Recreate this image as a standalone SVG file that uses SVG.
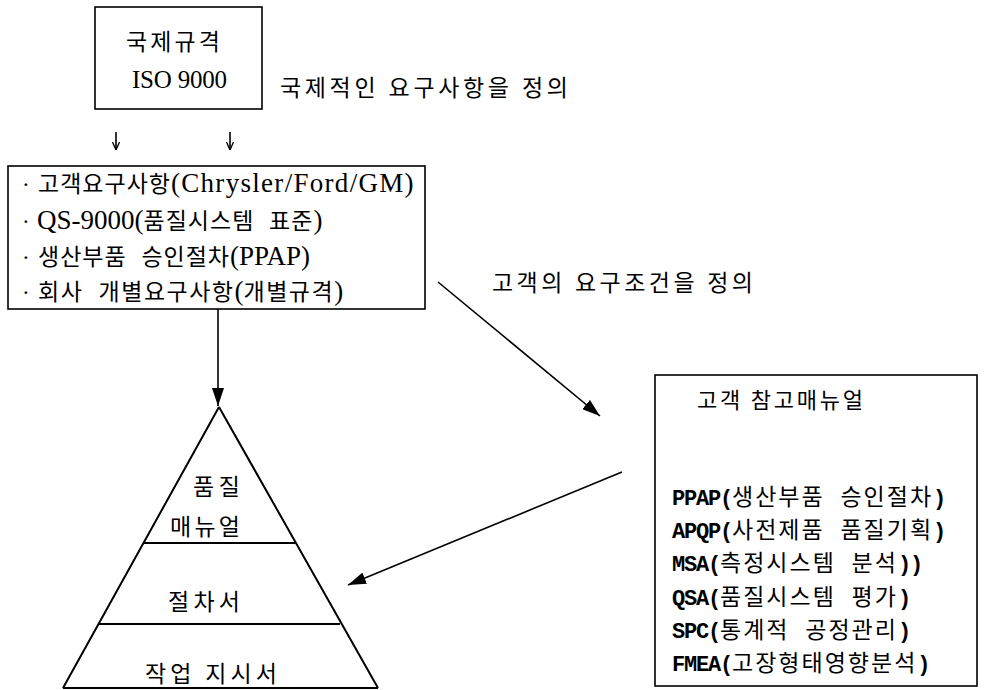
<svg xmlns="http://www.w3.org/2000/svg" width="985" height="690" viewBox="0 0 985 690">
<defs>
<marker id="ah" viewBox="0 0 18 12" refX="18" refY="6" markerWidth="18" markerHeight="12" markerUnits="userSpaceOnUse" orient="auto">
<path d="M0,0 L18,6 L0,12 Z" fill="#000"/>
</marker>
<marker id="sh" viewBox="0 0 8 8" refX="8" refY="4" markerWidth="8" markerHeight="8" markerUnits="userSpaceOnUse" orient="auto">
<path d="M0,0.5 L8,4 L0,7.5" fill="none" stroke="#000" stroke-width="1.3"/>
</marker>
<style>
.box{fill:#fff;stroke:#000;stroke-width:1.6}
.ln{fill:none;stroke:#000;stroke-width:2}
.t{font-family:"Liberation Serif","Noto Sans CJK KR",serif;font-size:23px;fill:#000}
.h{font-size:23px;letter-spacing:1px;word-spacing:8px}
.l{font-size:27px}
.k{font-family:"Noto Sans CJK KR",sans-serif;font-size:22px;fill:#000}
.m{font-family:"Liberation Mono","Noto Sans CJK KR",monospace;fill:#000}
.mh{font-size:23px;letter-spacing:2px}
.ml{font-size:22px;font-weight:bold;letter-spacing:-1.2px}
.c{stroke:#000;stroke-width:1.6;fill:none}
</style>
</defs>
<rect width="985" height="690" fill="#fff"/>

<g id="iso">
<rect class="box" x="95" y="7" width="167" height="102"/>
<text class="t" x="126" y="50" textLength="94" lengthAdjust="spacing">국제규격</text>
<text class="t" x="132" y="88" style="font-size:25px" textLength="95" lengthAdjust="spacing">ISO 9000</text>
</g>

<g id="label-intl">
<text class="t" x="280" y="96" textLength="288" lengthAdjust="spacing">국제적인 요구사항을 정의</text>
</g>

<g id="requirements">
<rect class="box" x="8" y="166" width="417" height="143"/>
<text class="t" x="22" y="192">·<tspan x="38" class="h">고객요구사항</tspan><tspan class="l" style="letter-spacing:1.3px">(Chrysler/Ford/GM)</tspan></text>
<text class="t" x="22" y="229">·<tspan x="37" class="l">QS-9000(</tspan><tspan class="h">품질시스템 표준</tspan><tspan class="l">)</tspan></text>
<text class="t" x="22" y="265">·<tspan x="38" class="h">생산부품 승인절차</tspan><tspan class="l">(PPAP)</tspan></text>
<text class="t" x="22" y="300">·<tspan x="38" class="h" style="letter-spacing:1.5px">회사 개별요구사항</tspan><tspan class="l">(</tspan><tspan class="h" style="letter-spacing:1.5px">개별규격</tspan><tspan class="l">)</tspan></text>
</g>

<g id="label-customer">
<text class="t" x="492" y="291" textLength="261" lengthAdjust="spacing">고객의 요구조건을 정의</text>
</g>

<g id="manuals">
<rect class="box" x="655" y="375" width="322" height="311"/>
<text class="k" x="697" y="408" textLength="166" lengthAdjust="spacing">고객 참고매뉴얼</text>
<text class="m" x="672" y="505"><tspan class="ml">PPAP(</tspan><tspan class="mh">생산부품 승인절차</tspan><tspan class="ml">)</tspan></text>
<text class="m" x="672" y="538"><tspan class="ml">APQP(</tspan><tspan class="mh">사전제품 품질기획</tspan><tspan class="ml">)</tspan></text>
<text class="m" x="672" y="571"><tspan class="ml">MSA(</tspan><tspan class="mh">측정시스템 분석</tspan><tspan class="ml">))</tspan></text>
<text class="m" x="672" y="605"><tspan class="ml">QSA(</tspan><tspan class="mh">품질시스템 평가</tspan><tspan class="ml">)</tspan></text>
<text class="m" x="672" y="638"><tspan class="ml">SPC(</tspan><tspan class="mh">통계적 공정관리</tspan><tspan class="ml">)</tspan></text>
<text class="m" x="672" y="671"><tspan class="ml">FMEA(</tspan><tspan class="mh">고장형태영향분석</tspan><tspan class="ml">)</tspan></text>
</g>

<g id="pyramid">
<path class="ln" d="M219,407 L63,688 M219,407 L378,688 M63,688 L378,688"/>
<line class="ln" x1="144" y1="543" x2="295" y2="543"/>
<line class="ln" x1="99" y1="624" x2="340" y2="624"/>
<text class="t" x="193" y="495" textLength="47" lengthAdjust="spacing">품질</text>
<text class="t" x="170" y="535" textLength="70" lengthAdjust="spacing">매뉴얼</text>
<text class="t" x="168" y="610" textLength="72" lengthAdjust="spacing">절차서</text>
<text class="t" x="145" y="682" textLength="132" lengthAdjust="spacing">작업 지시서</text>
</g>

<g id="connectors">
<line class="c" x1="116" y1="132" x2="116" y2="150" marker-end="url(#sh)"/>
<line class="c" x1="230" y1="132" x2="230" y2="150" marker-end="url(#sh)"/>
<line class="c" x1="218" y1="309" x2="218" y2="406" marker-end="url(#ah)"/>
<line class="c" x1="438" y1="282" x2="600" y2="416" marker-end="url(#ah)"/>
<line class="c" x1="622" y1="472" x2="348" y2="585" marker-end="url(#ah)"/>
</g>
</svg>
